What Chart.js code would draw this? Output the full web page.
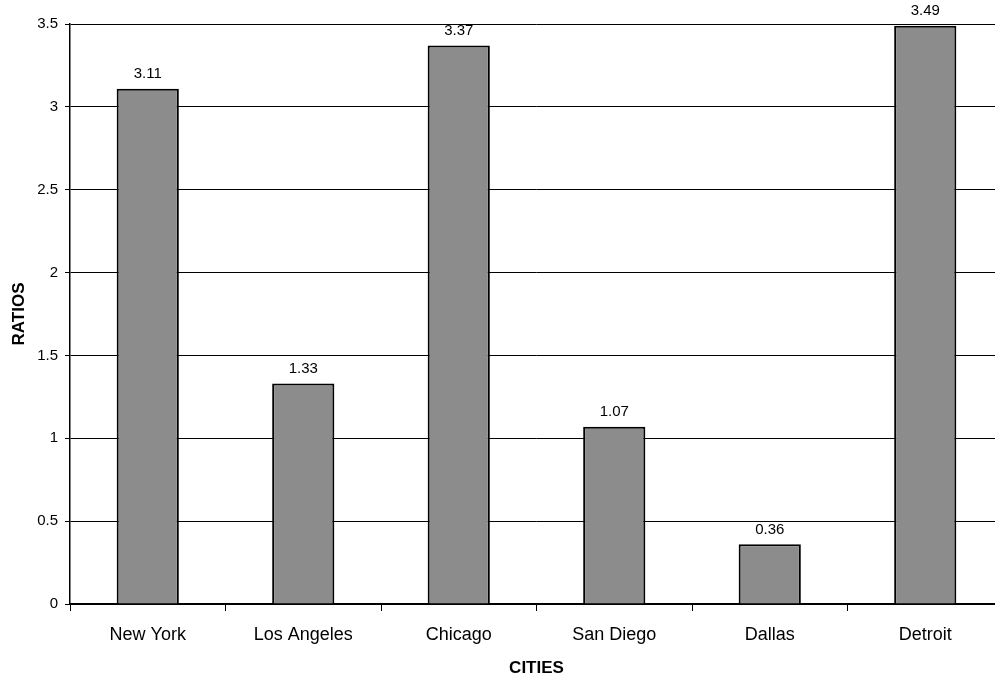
<!DOCTYPE html>
<html>
<head>
<meta charset="utf-8">
<script src="https://cdn.jsdelivr.net/npm/chart.js@4/dist/chart.umd.min.js"></script>
<style>
  html, body { margin: 0; padding: 0; background: #fff; overflow: hidden; }
  #wrap { position: relative; width: 1010px; height: 681px; }
</style>
</head>
<body>
<div id="wrap"><canvas id="c"></canvas></div>
<script>
// Ratio per city
const cities = ['New York', 'Los Angeles', 'Chicago', 'San Diego', 'Dallas', 'Detroit'];
const ratios = [3.11, 1.33, 3.37, 1.07, 0.36, 3.49];
const yTicks = [0, 0.5, 1, 1.5, 2, 2.5, 3, 3.5];

const FONT = '"Liberation Sans", Arial, sans-serif';

// Writes each bar's value just above it
const valueLabels = {
  id: 'valueLabels',
  afterDatasetsDraw(chart) {
    const ctx = chart.ctx;
    const meta = chart.getDatasetMeta(0);
    ctx.save();
    ctx.font = '15px ' + FONT;
    ctx.fillStyle = '#000';
    ctx.textAlign = 'center';
    ctx.textBaseline = 'bottom';
    meta.data.forEach((bar, i) => {
      ctx.fillText(String(chart.data.datasets[0].data[i]), bar.x, bar.y - 7);
    });
    ctx.restore();
  }
};

new Chart(document.getElementById('c'), {
  type: 'bar',
  data: {
    labels: cities,
    datasets: [{
      data: ratios,
      backgroundColor: '#8c8c8c',
      borderColor: '#000',
      borderWidth: 2,
      barPercentage: 0.4,
      categoryPercentage: 1.0
    }]
  },
  options: {
    responsive: true,
    maintainAspectRatio: false,
    animation: false,
    layout: { padding: { top: 24, right: 7, left: 0, bottom: 0 } },
    plugins: { legend: { display: false }, tooltip: { enabled: false } },
    scales: {
      x: {
        offset: true,
        grid: {
          offset: true,
          drawOnChartArea: false,
          drawTicks: true,
          tickLength: 7,
          tickColor: '#000',
          lineWidth: 1
        },
        border: { display: true, color: '#000', width: 1.5 },
        ticks: { color: '#000', font: { family: FONT, size: 18 }, padding: 13, maxRotation: 0 },
        title: {
          display: true,
          text: 'CITIES',
          color: '#000',
          font: { family: FONT, size: 17, weight: 'bold' },
          padding: { top: 0, bottom: 2 }
        },
        afterFit(scale) { scale.height = 77; }
      },
      y: {
        min: 0,
        max: 3.5,
        afterBuildTicks(scale) { scale.ticks = yTicks.map(v => ({ value: v })); },
        grid: {
          color: '#000',
          lineWidth: 1,
          drawTicks: true,
          tickLength: 5,
          tickColor: '#000'
        },
        border: { display: true, color: '#000', width: 1.5 },
        ticks: {
          color: '#000',
          font: { family: FONT, size: 15 },
          padding: 7,
          callback: v => String(v)
        },
        title: {
          display: true,
          text: 'RATIOS',
          color: '#000',
          font: { family: FONT, size: 17, weight: 'bold' },
          padding: { top: 9, bottom: 0 }
        },
        afterFit(scale) { scale.width = 70; }
      }
    }
  },
  plugins: [valueLabels]
});
</script>
</body>
</html>
